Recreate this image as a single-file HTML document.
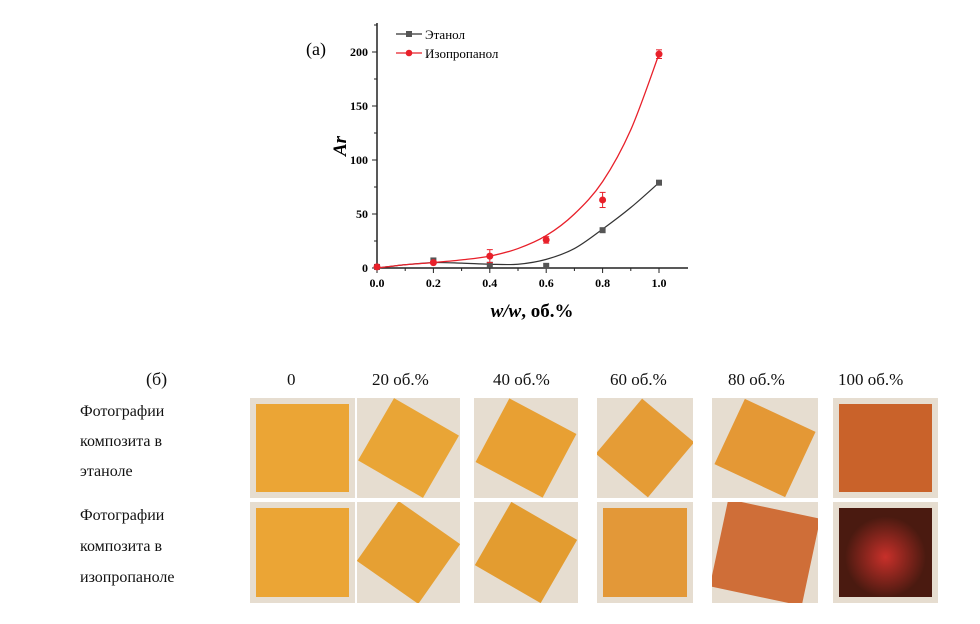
<!DOCTYPE html>
<html><head><meta charset="utf-8"><style>
body{margin:0;background:#fff;width:980px;height:624px;overflow:hidden;position:relative;font-family:"Liberation Serif","Noto Serif CJK SC",serif}
.t{position:absolute;font-size:17px;color:#111;white-space:nowrap}
.ph{position:absolute;overflow:hidden;background:#e6ddd0}
.ph div{position:absolute}
</style></head><body>
<svg id="chart" width="980" height="330" style="position:absolute;left:0;top:0" xmlns="http://www.w3.org/2000/svg"></svg>

<div class="t" style="left:146px;top:369px;font-size:18px">(б)</div>
<div class="t" style="left:287px;top:370px">0</div>
<div class="t" style="left:372px;top:370px">20 об.%</div>
<div class="t" style="left:493px;top:370px">40 об.%</div>
<div class="t" style="left:610px;top:370px">60 об.%</div>
<div class="t" style="left:728px;top:370px">80 об.%</div>
<div class="t" style="left:838px;top:370px">100 об.%</div>
<div class="t" style="left:80px;top:397px;line-height:30px;font-size:16px">Фотографии<br>композита в<br>этаноле</div>
<div class="t" style="left:80px;top:500px;line-height:31px;font-size:16px">Фотографии<br>композита в<br>изопропаноле</div>
<div id="photos"></div>

<script>
const xTicks=[0,0.2,0.4,0.6,0.8,1.0];
const yTicks=[0,50,100,150,200];
const xVals=[0,0.2,0.4,0.6,0.8,1.0];
const ethanol=[1,7,3,2,35,79];
const isoprop=[1,5,11,26,63,198];
const isoErr=[0,1,6,3,7,4];
const fitX=[0,0.1,0.2,0.3,0.4,0.5,0.6,0.7,0.8,0.9,1.0];
const ethFit=[0,3,5,4.5,3.5,3.5,8,18,36,56,79];
const isoFit=[0,3,5,7.5,11,18,30,50,80,128,198];

const svg=document.getElementById('chart');
const NS='http://www.w3.org/2000/svg';
const X=v=>377+v*282, Y=v=>268-v*1.08;
function el(t,a,p){const e=document.createElementNS(NS,t);for(const k in a)e.setAttribute(k,a[k]);(p||svg).appendChild(e);return e;}
function txt(s,a){const e=el('text',a);e.textContent=s;return e;}
let e;
e=el('line',{x1:377,y1:268,x2:688,y2:268,stroke:'#222','stroke-width':1.5});

e=el('line',{x1:377,y1:23,x2:377,y2:268,stroke:'#222','stroke-width':1.5});

for(let i=0;i<=10;i++){const x=X(i/10);el('line',{x1:x,y1:268,x2:x,y2:i%2?271:273,stroke:'#222'});}
for(let v=0;v<=225;v+=25){const y=Y(v);el('line',{x1:377,y1:y,x2:v%50?374:372,y2:y,stroke:'#222'});}
xTicks.forEach(v=>{e=txt(v.toFixed(1),{x:X(v),y:287,'text-anchor':'middle','font-size':12,'font-weight':'bold','font-family':'Liberation Serif, serif'});
});
yTicks.forEach(v=>{e=txt(String(v),{x:368,y:Y(v)+4,'text-anchor':'end','font-size':12,'font-weight':'bold','font-family':'Liberation Serif, serif'});
});
e=txt('Ar',{x:0,y:0,transform:'translate(346,146) rotate(-90)','text-anchor':'middle','font-size':19,'font-weight':'bold','font-style':'italic','font-family':'Liberation Serif, serif'});

e=el('text',{x:532,y:317,'text-anchor':'middle','font-size':19,'font-weight':'bold','font-family':'Liberation Serif, serif'});
e.innerHTML='<tspan font-style="italic">w/w</tspan>, об.%';

e=txt('(a)',{x:306,y:55,'font-size':18,'font-family':'Liberation Serif, serif'});

function smooth(xs,ys){const p=xs.map((x,i)=>[X(x),Y(ys[i])]);let d='M'+p[0];
for(let i=0;i<p.length-1;i++){const p0=p[i-1]||p[i],p1=p[i],p2=p[i+1],p3=p[i+2]||p2;
d+=` C${p1[0]+(p2[0]-p0[0])/6},${p1[1]+(p2[1]-p0[1])/6} ${p2[0]-(p3[0]-p1[0])/6},${p2[1]-(p3[1]-p1[1])/6} ${p2[0]},${p2[1]}`;}return d;}
e=el('path',{d:smooth(fitX,ethFit),fill:'none',stroke:'#333','stroke-width':1.2});

e=el('path',{d:smooth(fitX,isoFit),fill:'none',stroke:'#e8202a','stroke-width':1.3});

xVals.forEach((x,i)=>{e=el('rect',{x:X(x)-3,y:Y(ethanol[i])-3,width:6,height:6,fill:'#555'});
});
xVals.forEach((x,i)=>{const cx=X(x),cy=Y(isoprop[i]);
if(isoErr[i]){el('line',{x1:cx,y1:Y(isoprop[i]+isoErr[i]),x2:cx,y2:Y(isoprop[i]-isoErr[i]),stroke:'#e8202a'});
el('line',{x1:cx-3,y1:Y(isoprop[i]+isoErr[i]),x2:cx+3,y2:Y(isoprop[i]+isoErr[i]),stroke:'#e8202a'});
el('line',{x1:cx-3,y1:Y(isoprop[i]-isoErr[i]),x2:cx+3,y2:Y(isoprop[i]-isoErr[i]),stroke:'#e8202a'});}
e=el('circle',{cx:cx,cy:cy,r:3.5,fill:'#e8202a'});
});
el('line',{x1:396,y1:34,x2:422,y2:34,stroke:'#333','stroke-width':1.3});el('rect',{x:406,y:31,width:6,height:6,fill:'#555'});
e=txt('Этанол',{x:425,y:39,'font-size':13,'font-family':'Liberation Serif, serif'});

el('line',{x1:396,y1:53,x2:422,y2:53,stroke:'#e8202a','stroke-width':1.3});el('circle',{cx:409,cy:53,r:3.3,fill:'#e8202a'});
e=txt('Изопропанол',{x:425,y:58,'font-size':13,'font-family':'Liberation Serif, serif'});


const cols=[[250,355],[357,460],[474,578],[597,693],[712,818],[833,938]];
const rows=[[398,498],[502,603]];
const colors=[['#eba535','#e9a536','#e8a033','#e59c36','#e49835','#c9622a'],['#eba535','#e6a033','#e39c30','#e39838','#cf6e38','#4a1a10']];
const rots=[[0,30,28,40,25,0],[0,35,30,0,12,0]];
const holder=document.getElementById('photos');
rows.forEach((r,ri)=>cols.forEach((c,ci)=>{const d=document.createElement('div');d.className='ph';


d.style.cssText=`left:${c[0]}px;top:${r[0]}px;width:${c[1]-c[0]}px;height:${r[1]-r[0]}px`;
const inner=document.createElement('div');const col=colors[ri][ci];
const rot=rots[ri][ci];
const ins=rot>20?14:6;
inner.style.cssText=`left:${ins}px;top:${ins}px;right:${ins}px;bottom:${ins}px;background:radial-gradient(circle at 50% 55%, ${ri===1&&ci===5?'#c8302a':col}, ${col} 60%);transform:rotate(${rot}deg);`;
d.appendChild(inner);holder.appendChild(d);}));
</script>
</body></html>
